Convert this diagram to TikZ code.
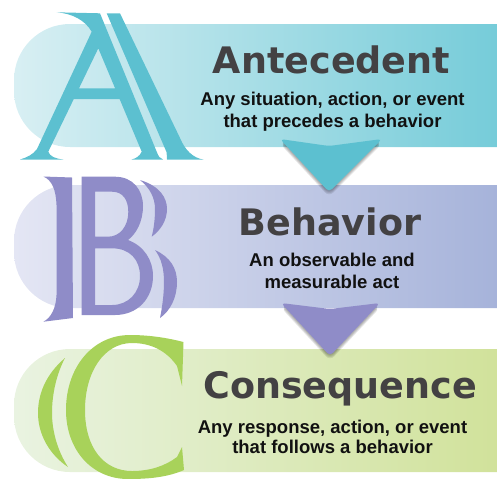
\documentclass[tikz,border=0pt]{standalone}
\usepackage{fontspec}
\setmainfont{Liberation Sans}
\newfontfamily\titlefont{DejaVu Sans}
\definecolor{aL}{HTML}{D8EFF3}
\definecolor{aR}{HTML}{76CCD9}
\definecolor{bL}{HTML}{E4E6F4}
\definecolor{bR}{HTML}{A6B3DA}
\definecolor{cL}{HTML}{E9F3E1}
\definecolor{cR}{HTML}{D1E29B}
\definecolor{aCol}{HTML}{5CC0D0}
\definecolor{bCol}{HTML}{8F8CC8}
\definecolor{cCol}{HTML}{A8D25A}
\definecolor{titleCol}{HTML}{434143}
\definecolor{subCol}{HTML}{111111}
\newcommand\chevApath{(280,139) -- (329,146) -- (382,139) -- (329,192) -- cycle}
\newcommand\chevBpath{(281,303) -- (330,309) -- (380,303) -- (330,356) -- cycle}
\tikzset{
  band/.style={rounded corners=28pt},
  chev/.style={rounded corners=2pt},
  shad/.style={rounded corners=3pt, fill=black, fill opacity=0.09},
  title/.style={anchor=base, inner sep=0pt, text=titleCol, font=\titlefont\bfseries\fontsize{18.25pt}{22pt}\selectfont},
  sub/.style={anchor=base, inner sep=0pt, text=subCol, font=\bfseries\fontsize{9.25pt}{11pt}\selectfont}
}
\begin{document}
\begin{tikzpicture}[x=0.5pt,y=-0.5pt]
\useasboundingbox (0,0) rectangle (497,478);
% bands
\shade[band, left color=aL, right color=aR] (497,24) -- (14,24) -- (14,147) -- (497,147);
\shade[band, left color=bL, right color=bR] (497,185) -- (14,185) -- (14,308) -- (497,308);
\shade[band, left color=cL, right color=cR] (497,349) -- (14,349) -- (14,472) -- (497,472);
% chevron shadows (soft)
\foreach \s in {0.6,1.2,1.8,2.4}{
  \fill[shad, yshift=-\s pt] \chevApath;
  \fill[shad, yshift=-\s pt] \chevBpath;
}
% chevrons
\fill[chev, aCol] \chevApath;
\fill[chev, bCol] \chevBpath;
% letter A
\fill[aCol, even odd rule]
  (56.7,12.3) -- (100,13.3) -- (156.7,151.7) .. controls (158.5,156.5) and (160,158.5) .. (163,159.5)
  -- (131.7,159.5) .. controls (135.5,158.5) and (139.5,156.5) .. (141.7,151.7)
  -- (119.6,99) -- (73.8,99) -- (48.3,151.7) .. controls (50,156.5) and (55,158.5) .. (63.3,159.5)
  -- (20,159.5) .. controls (27,157.5) and (33,154.5) .. (37,149)
  -- (91.7,31.7) .. controls (85,20) and (72,13.5) .. (56.7,12.3) -- cycle
  (98.3,48.3) -- (115.1,88.3) -- (79,88.3) -- cycle;
\fill[aCol] (106.7,13.3) -- (120,13.3) -- (180,138) .. controls (185,150) and (193,158) .. (203.3,159.5)
  -- (167,159.5) .. controls (167,157) and (166.8,154.5) .. (166.5,152) -- cycle;
% letter B
\fill[bCol] (43.3,176.5) -- (72,177.5) -- (73,318) -- (43.3,321.7)
  .. controls (51,318) and (56,308) .. (56.5,295) -- (56.5,205) .. controls (56,190) and (52,180) .. (43.3,176.5) -- cycle;
\fill[bCol, even odd rule]
  (81.7,176.7) -- (115,176.7) .. controls (133,176.7) and (143,190) .. (143,206)
  .. controls (143,222) and (136,234) .. (128,240) .. controls (144,246) and (153,260) .. (153,276)
  .. controls (153,298) and (138,315) .. (115,315) -- (81.7,315) -- cycle
  (95,191.7) -- (112,191.7) .. controls (123,191.7) and (128.3,200) .. (128.3,212)
  .. controls (128.3,226) and (120,236.7) .. (108,236.7) -- (95,236.7) -- cycle
  (95,248.3) -- (112,248.3) .. controls (130,248.3) and (140,260) .. (140,276)
  .. controls (140,293) and (128,305) .. (112,305) -- (95,305) -- cycle;
\fill[bCol] (140,180) .. controls (160,186) and (167,198) .. (167,209) .. controls (167,220) and (161,230) .. (151.7,236.7)
  .. controls (154,228) and (155,218) .. (155,209) .. controls (155,198) and (150,188) .. (140,180) -- cycle;
\fill[bCol] (155,250) .. controls (170,257) and (177,268) .. (177,282) .. controls (177,298) and (170,311) .. (160,318)
  .. controls (162,308) and (164,295) .. (164,282) .. controls (164,268) and (161,258) .. (155,250) -- cycle;
% letter C
\fill[cCol] (183.5,342) -- (182,386) -- (177,366) .. controls (166,350) and (150,343) .. (132,343)
  .. controls (104,343) and (85,372) .. (85,410) .. controls (85,448) and (104,471) .. (132,471)
  .. controls (150,471) and (165,466) .. (177,457) -- (182,447) -- (184,470)
  .. controls (168,477) and (150,479) .. (128,479) .. controls (92,479) and (66,450) .. (66,410)
  .. controls (66,368) and (92,335) .. (130,335) .. controls (150,335) and (168,338) .. (183.5,342) -- cycle;
\fill[cCol] (65,358) .. controls (45,375) and (38,395) .. (38,413) .. controls (38,435) and (50,455) .. (68,467)
  .. controls (57,450) and (52,430) .. (52,413) .. controls (52,393) and (57,373) .. (65,358) -- cycle;
% texts
\node[title] (tA) at (331.5,73) {Antecedent};
\node[sub] (sA1) at (332.5,105) {Any situation, action, or event};
\node[sub] (sA2) at (332.5,127) {that precedes a behavior};
\node[title] (tB) at (330,235) {Behavior};
\node[sub] (sB1) at (332,266) {An observable and};
\node[sub] (sB2) at (332,288) {measurable act};
\node[title] (tC) at (340,398) {Consequence};
\node[sub] (sC1) at (332.5,433) {Any response, action, or event};
\node[sub] (sC2) at (332.5,453) {that follows a behavior};
\end{tikzpicture}
\end{document}
